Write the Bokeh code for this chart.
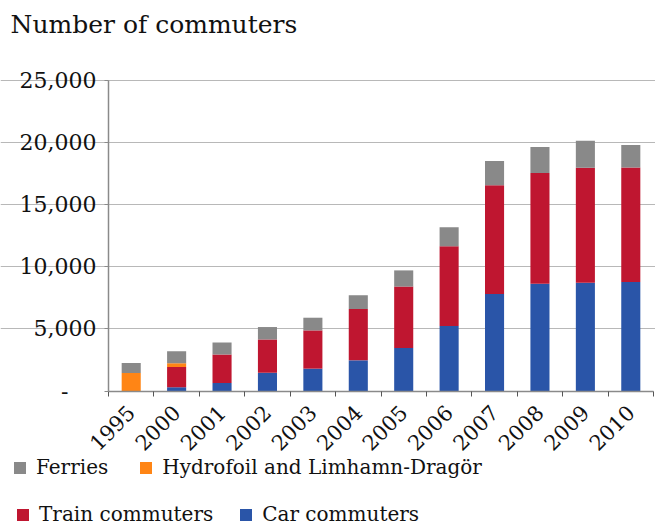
import numpy as np
from bokeh.plotting import figure
from bokeh.models import (FixedTicker, NumeralTickFormatter, Range1d, Legend, LegendItem,
                          ColumnDataSource, Label)
from bokeh.embed import file_html
from bokeh.resources import INLINE

years = ["1995", "2000", "2001", "2002", "2003", "2004", "2005", "2006", "2007", "2008", "2009", "2010"]
car = [0, 300, 650, 1470, 1800, 2470, 3470, 5230, 7820, 8630, 8710, 8770]
train = [0, 1630, 2280, 2680, 3080, 4130, 4940, 6420, 8750, 8915, 9265, 9235]
hydrofoil = [1450, 300, 0, 0, 0, 0, 0, 0, 0, 0, 0, 0]
ferries = [800, 970, 970, 1000, 1020, 1110, 1300, 1540, 1950, 2105, 2165, 1810]
y_ticks = [0, 5000, 10000, 15000, 20000, 25000]

series = ["car", "train", "hydrofoil", "ferries"]
labels = {"car": "Car commuters", "train": "Train commuters",
          "hydrofoil": "Hydrofoil and Limhamn-Dragör", "ferries": "Ferries"}
colors = {"car": "#2a55a8", "train": "#bf1630", "hydrofoil": "#ff8515", "ferries": "#898989"}

FONT = "DejaVu Serif"
n = len(years)
xpos = np.arange(n) + 0.5

# layout: the frame covers the whole canvas; axes are pinned inside it
W, H = 655, 528
PLOT_L, PLOT_R, PLOT_T, PLOT_B = 108, 653, 80, 390.5
ymax = y_ticks[-1]
ypp = ymax / (PLOT_B - PLOT_T)          # data units per pixel
xpp = n / (PLOT_R - PLOT_L)
y_range = Range1d(-(H - PLOT_B) * ypp, ymax + PLOT_T * ypp)
x_range = Range1d(-PLOT_L * xpp, n + (W - PLOT_R) * xpp)

src = ColumnDataSource(dict(x=xpos, car=car, train=train, hydrofoil=hydrofoil, ferries=ferries))

p = figure(width=W, height=H, output_backend="svg", toolbar_location=None, title=None,
           x_range=x_range, y_range=y_range,
           min_border_left=0, min_border_right=0, min_border_top=0, min_border_bottom=0)
p.outline_line_color = None

rends = p.vbar_stack(series, x="x", width=0.42, source=src,
                     color=[colors[s] for s in series], line_color=None)
rend = dict(zip(series, rends))

# gridlines (behind bars)
p.xgrid.grid_line_color = None
p.ygrid.ticker = FixedTicker(ticks=y_ticks[1:])
p.ygrid.bounds = (0, n)
p.ygrid.grid_line_color = "#b8b8b8"
p.ygrid.grid_line_width = 1.2

# y axis pinned at x = 0
ya = p.yaxis[0]
ya.fixed_location = 0
ya.bounds = (0, ymax)
ya.ticker = FixedTicker(ticks=y_ticks)
ya.formatter = NumeralTickFormatter(format="0,0")
ya.major_label_overrides = {0: "-\u00a0\u00a0\u00a0\u00a0"}
ya.major_label_text_font = FONT
ya.major_label_text_font_size = "22px"
ya.major_label_text_color = "#111111"
ya.major_label_standoff = 8
ya.axis_line_color = "#8a8a8a"
ya.axis_line_width = 1.5
ya.major_tick_line_color = "#8a8a8a"
ya.major_tick_out = 4
ya.major_tick_in = 0
ya.minor_tick_line_color = None

# x axis pinned at y = 0: labels at centres, ticks at category boundaries
xa = p.xaxis[0]
xa.fixed_location = 0
xa.bounds = (0, n)
xa.ticker = FixedTicker(ticks=list(xpos), minor_ticks=list(np.arange(n + 1)))
xa.major_label_overrides = {float(x): y for x, y in zip(xpos, years)}
xa.major_tick_line_color = None
xa.minor_tick_line_color = "#555555"
xa.minor_tick_out = 5
xa.minor_tick_in = 0
xa.axis_line_color = "#8a8a8a"
xa.axis_line_width = 1.5
xa.major_label_orientation = np.pi / 4
xa.major_label_text_font = FONT
xa.major_label_text_font_size = "21px"
xa.major_label_text_color = "#111111"
xa.major_label_standoff = 12

# title
p.add_layout(Label(x=10, y=H - 24, x_units="screen", y_units="screen",
                   text="Number of commuters", text_font=FONT, text_font_size="25px",
                   text_color="#111111", text_baseline="alphabetic"))


def make_legend(keys, loc, spacing):
    lg = Legend(items=[LegendItem(label=labels[k], renderers=[rend[k]]) for k in keys],
                orientation="horizontal", location=loc, padding=0, margin=0,
                spacing=spacing, glyph_width=15, glyph_height=15, label_standoff=9,
                label_text_font=FONT, label_text_font_size="20px", label_text_color="#111111",
                border_line_color=None, background_fill_alpha=0, label_height=22)
    p.add_layout(lg, "center")


make_legend(["ferries", "hydrofoil"], (12, 49), 30)
make_legend(["train", "car"], (15, 2), 25)

open("out.html", "w").write(file_html(p, INLINE))
